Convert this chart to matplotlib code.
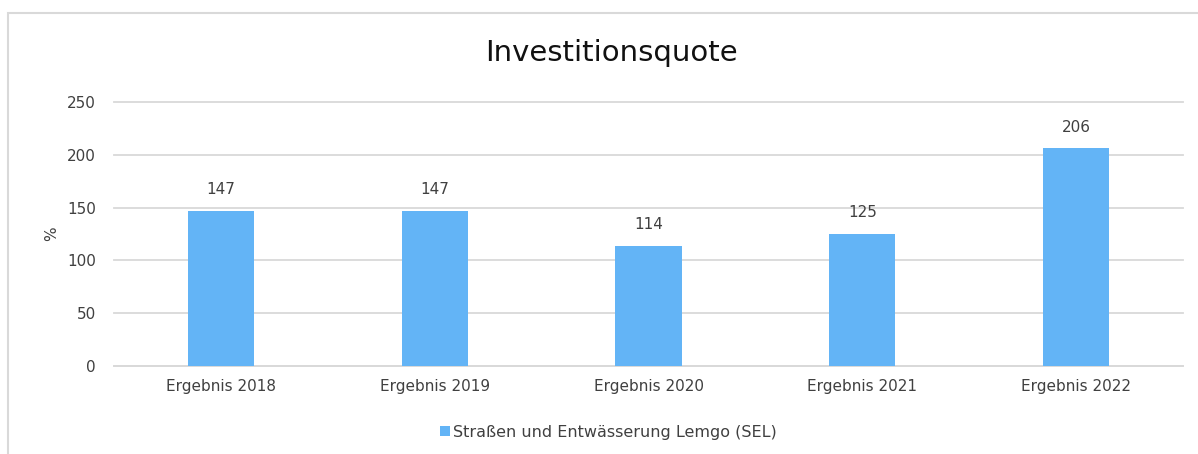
import matplotlib
matplotlib.use('Agg')
import matplotlib.pyplot as plt
from matplotlib.patches import Rectangle

categories = ['Ergebnis 2018', 'Ergebnis 2019', 'Ergebnis 2020', 'Ergebnis 2021', 'Ergebnis 2022']
values = [147, 147, 114, 125, 206]
series_name = 'Straßen und Entwässerung Lemgo (SEL)'

BAR_COLOR = '#63B4F6'
GRID_COLOR = '#D9D9D9'
TEXT_COLOR = '#404040'


def main():
    plt.rcParams['font.family'] = ['DejaVu Sans']
    fig = plt.figure(figsize=(11.98, 4.54), dpi=100)
    ax = fig.add_axes([0.0952, 0.1938, 0.8923, 0.5815])

    x = list(range(len(categories)))
    ax.bar(x, values, width=0.31, color=BAR_COLOR, zorder=3, label=series_name)

    for xi, v in zip(x, values):
        ax.annotate(str(v), (xi, v), xytext=(0, 10), textcoords='offset points',
                    ha='center', va='bottom', fontsize=11, color=TEXT_COLOR)

    ax.set_xlim(-0.5, len(categories) - 0.5)
    ax.set_ylim(0, 250)
    ax.set_yticks([0, 50, 100, 150, 200, 250])
    ax.set_xticks(x)
    ax.set_xticklabels(categories)
    ax.tick_params(axis='both', length=0, labelsize=11, colors=TEXT_COLOR)
    ax.tick_params(axis='x', pad=9)
    ax.tick_params(axis='y', pad=13)
    ax.grid(axis='y', color=GRID_COLOR, linewidth=1.3, zorder=0)
    for line in ax.get_ygridlines():
        line.set_clip_on(False)
    for s in ['top', 'right', 'left']:
        ax.spines[s].set_visible(False)
    ax.spines['bottom'].set_color(GRID_COLOR)
    ax.spines['bottom'].set_linewidth(1.3)

    ax.set_ylabel('%', fontsize=11, color=TEXT_COLOR, labelpad=6)

    fig.text(0.51, 0.884, 'Investitionsquote', ha='center', va='center',
             fontsize=21, color='#111111')

    fig.legend(loc='center', bbox_to_anchor=(0.508, 0.048), frameon=False,
               fontsize=11.5, handlelength=0.6, handleheight=0.6,
               handletextpad=0.2, labelcolor=TEXT_COLOR)

    border = Rectangle((8 / 1198, -0.1), 1.2, 1 - 13 / 454 + 0.1,
                       transform=fig.transFigure, fill=False,
                       edgecolor=GRID_COLOR, linewidth=1.5)
    fig.patches.append(border)

    fig.savefig('out.png', dpi=100)


if __name__ == '__main__':
    main()
